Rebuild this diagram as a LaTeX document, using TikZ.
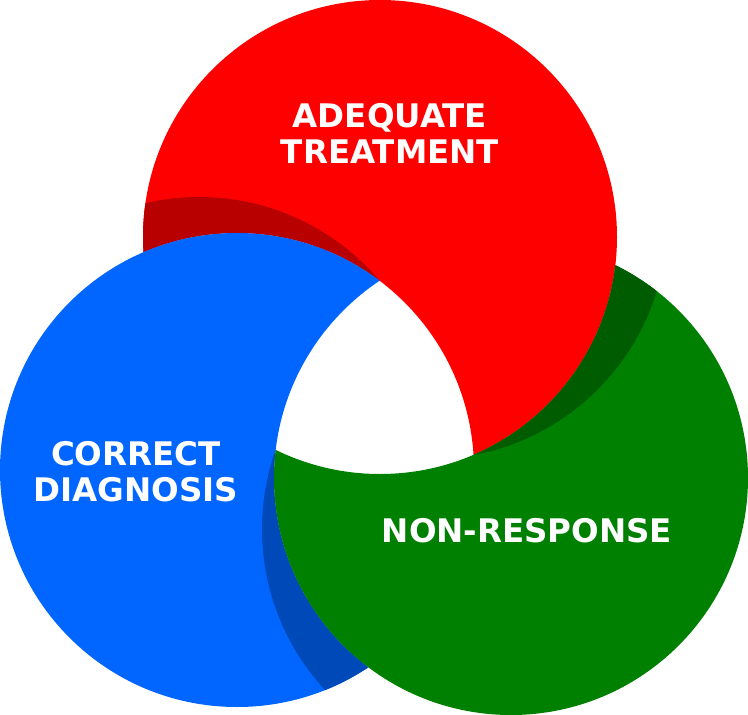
\documentclass[tikz,border=0pt]{standalone}
\usepackage{fontspec}
\setmainfont{DejaVu Sans}
\definecolor{vennRed}{RGB}{255,0,0}
\definecolor{vennBlue}{RGB}{0,102,255}
\definecolor{vennGreen}{RGB}{0,128,0}
\tikzset{
 venn label/.style={text=white,align=center,
                    font=\fontsize{32.5}{36}\selectfont\bfseries},
 venn disc/.style={fill=#1,even odd rule},
 venn shadow/.style={fill=#1!72!black,even odd rule}
}
\def\vennrad{237pt}
\begin{document}
\begin{tikzpicture}[x=1pt,y=-1pt]
 \useasboundingbox (0,0) rectangle (748,715);
 % disc centres and the shifted centres of their shadows
 \coordinate (cR) at (380,237);
 \coordinate (cB) at (237,470);
 \coordinate (cG) at (511,478);
 \coordinate (sR) at (430,222);
 \coordinate (sB) at (199,434);
 \coordinate (sG) at (499,529);
 % each disc minus the next one, with the next one's shadow on it
 \foreach \a/\b/\s/\col in {cR/cB/sB/vennRed,cB/cG/sG/vennBlue,cG/cR/sR/vennGreen}{
   \begin{scope}
     \clip (\a) circle[radius=\vennrad];
     \fill[venn disc=\col] (-300,-300) rectangle (1050,1050) (\b) circle[radius=\vennrad];
     \clip (\s) circle[radius=\vennrad];
     \fill[venn shadow=\col] (-300,-300) rectangle (1050,1050) (\b) circle[radius=\vennrad];
   \end{scope}
 }
 \node[venn label] (treat) at (390,133) {ADEQUATE\\TREATMENT};
 \node[venn label] (diag) at (136,472) {CORRECT\\DIAGNOSIS};
 \node[venn label] (nonresp) at (527,531) {NON-RESPONSE};
\end{tikzpicture}
\end{document}
